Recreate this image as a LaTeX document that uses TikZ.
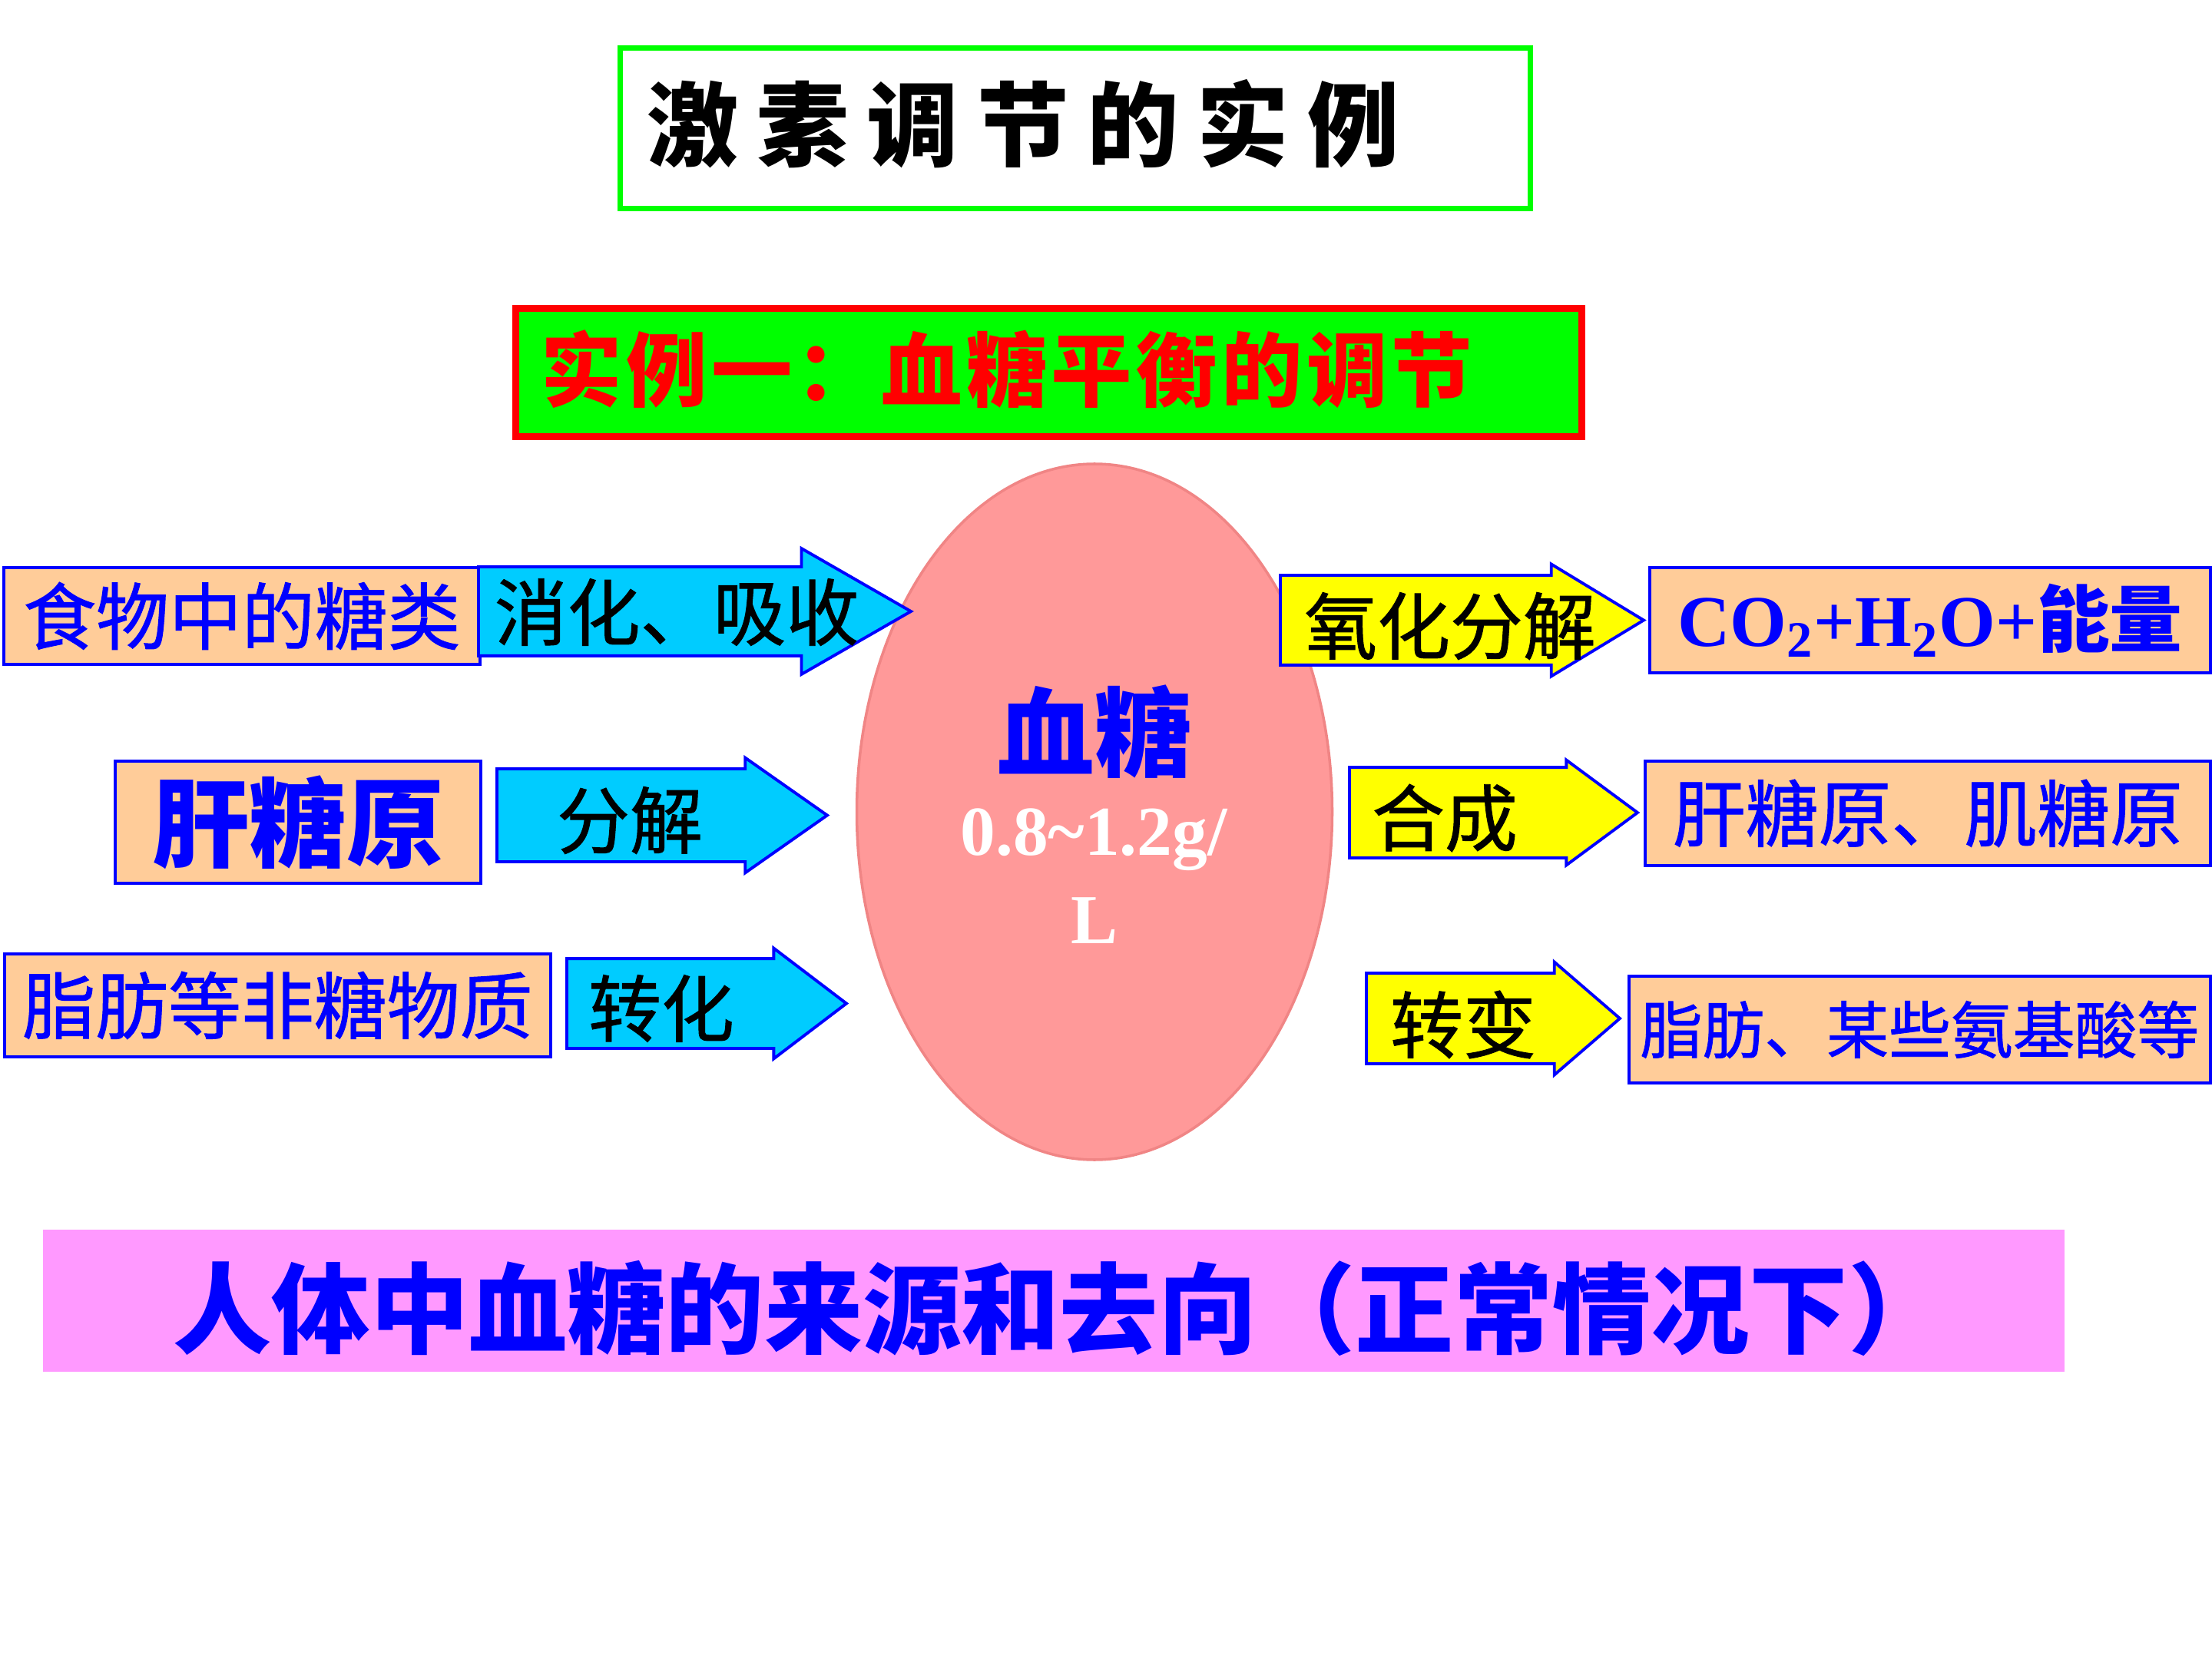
\documentclass[tikz,border=0pt]{standalone}
\usepackage{fontspec}
\setmainfont{Liberation Serif}
\newfontfamily\cjk{Noto Sans CJK SC}
\newfontfamily\cjkmid[FakeBold=1]{Noto Sans CJK SC}
\usepackage{tikz}
\usetikzlibrary{shapes.geometric,shapes.arrows}
\definecolor{peach}{HTML}{FFCC99}
\definecolor{skyfill}{HTML}{00CCFF}
\definecolor{lemon}{HTML}{FFFF00}
\definecolor{rosefill}{HTML}{FF9999}
\definecolor{roseline}{HTML}{F08585}
\definecolor{orchidfill}{HTML}{FF99FF}
\definecolor{brightgreen}{HTML}{00FF00}
\definecolor{pureblue}{HTML}{0000FF}
\definecolor{purered}{HTML}{FF0000}

\begin{document}
\begin{tikzpicture}[
    x=1cm,y=-1cm,
    box/.style={draw=pureblue,line width=1.1pt,fill=peach,anchor=north west,inner sep=0pt,text=pureblue,font=\cjkmid\fontsize{27}{32}\selectfont},
    pipe/.style={single arrow,draw=pureblue,line width=1.1pt,inner xsep=0pt,outer sep=0pt,anchor=tail},
    inarrow/.style={pipe,fill=skyfill},
    outarrow/.style={pipe,fill=lemon},
    tag/.style={font=\cjkmid\fontsize{27}{32}\selectfont}
  ]
    \useasboundingbox (0,0) rectangle (28.8,21.6);

    % headings
    \node[draw=brightgreen,line width=2pt,anchor=north west,minimum width=11.85cm,minimum height=2.09cm] (titlebox) at (8.04,0.59) {};
    \node[font=\cjk\bfseries\fontsize{34}{40}\selectfont\addfontfeature{LetterSpace=20}] (title) at (13.32,1.61) {激素调节的实例};
    \node[draw=purered,fill=brightgreen,line width=2.5pt,anchor=north west,minimum width=13.88cm,minimum height=1.67cm] (casebox) at (6.67,3.97) {};
    \node[text=purered,font=\cjk\bfseries\fontsize{30}{36}\selectfont\addfontfeature{LetterSpace=5}] (case) at (13.11,4.81) {实例一：血糖平衡的调节};

    % blood sugar
    \node[ellipse,draw=roseline,line width=1pt,fill=rosefill,minimum width=6.19cm,minimum height=9.06cm] (sugar) at (14.25,10.57) {};
    \node[text=pureblue,font=\cjk\bfseries\fontsize{36}{40}\selectfont] (sugarname) at (14.25,9.53) {血糖};
    \node[text=white,font=\bfseries\fontsize{26}{32}\selectfont,anchor=base] (range) at (14.24,11.13) {0.8\textasciitilde1.2g/};
    \node[text=white,font=\bfseries\fontsize{26}{32}\selectfont,anchor=base] (rangeunit) at (14.25,12.28) {L};

    % sources
    \node[box,minimum width=6.20cm,minimum height=1.26cm] (food) at (0.03,7.37) {食物中的糖类};
    \node[inarrow,minimum height=5.63cm,minimum width=1.60cm,inner ysep=0.56cm,single arrow head extend=0.24cm,single arrow tip angle=59.8] (digest) at (6.23,7.96) {};
    \node[tag] (digesttxt) at (8.81,7.97) {消化、吸收};
    \node[box,minimum width=4.76cm,minimum height=1.59cm,font=\cjk\bfseries\fontsize{36}{40}\selectfont] (liver) at (1.48,9.89) {肝糖原};
    \node[inarrow,minimum height=4.30cm,minimum width=1.46cm,inner ysep=0.585cm,single arrow head extend=0.145cm,single arrow tip angle=70.1] (split) at (6.47,10.615) {};
    \node[tag] (splittxt) at (8.20,10.68) {分解};
    \node[box,minimum width=7.11cm,minimum height=1.34cm] (fat) at (0.04,12.40) {脂肪等非糖物质};
    \node[inarrow,minimum height=3.64cm,minimum width=1.40cm,inner ysep=0.565cm,single arrow head extend=0.135cm,single arrow tip angle=74.5] (convert) at (7.38,13.065) {};
    \node[tag] (converttxt) at (8.61,13.13) {转化};

    % sinks
    \node[outarrow,minimum height=4.73cm,minimum width=1.42cm,inner ysep=0.565cm,single arrow head extend=0.145cm,single arrow tip angle=62.5] (oxid) at (16.67,8.075) {};
    \node[tag] (oxidtxt) at (18.88,8.15) {氧化分解};
    \node[box,minimum width=7.30cm,minimum height=1.37cm] (energy) at (21.46,7.37) {{\rmfamily\bfseries CO\textsubscript{2}+H\textsubscript{2}O+}{\cjk\bfseries 能量}};
    \node[outarrow,minimum height=3.75cm,minimum width=1.33cm,inner ysep=0.57cm,single arrow head extend=0.095cm,single arrow tip angle=72.9] (synth) at (17.57,10.58) {};
    \node[tag] (synthtxt) at (18.81,10.65) {合成};
    \node[box,minimum width=7.36cm,minimum height=1.36cm] (glycogen) at (21.40,9.89) {肝糖原、肌糖原};
    \node[outarrow,minimum height=3.30cm,minimum width=1.43cm,inner ysep=0.57cm,single arrow head extend=0.145cm,single arrow tip angle=81.5] (change) at (17.79,13.26) {};
    \node[tag] (changetxt) at (19.05,13.34) {转变};
    \node[box,minimum width=7.57cm,minimum height=1.39cm,font=\cjkmid\fontsize{23}{28}\selectfont] (lipid) at (21.19,12.69) {脂肪、某些氨基酸等};

    % summary bar
    \node[fill=orchidfill,anchor=north west,minimum width=26.32cm,minimum height=1.85cm] (bar) at (0.55,16.00) {};
    \node[text=pureblue,font=\cjk\bfseries\fontsize{36.5}{40}\selectfont] (summary) at (13.80,17.03) {人体中血糖的来源和去向（正常情况下）};
\end{tikzpicture}
\end{document}
